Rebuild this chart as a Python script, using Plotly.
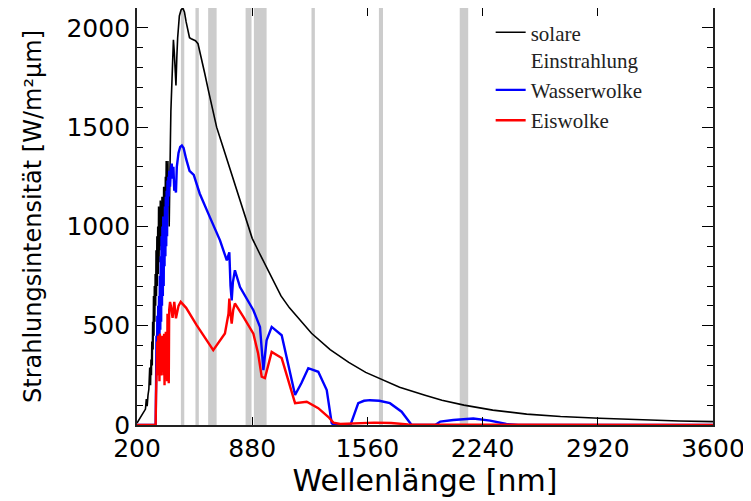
import plotly.graph_objects as go

# --- data -------------------------------------------------------------
solar_wl = [200, 210, 220, 230, 240, 250, 255, 260, 265, 270, 275, 280, 282.5, 285, 287.5,
            290, 292.5, 295, 297.5, 300, 302.5, 305, 307.5, 310, 312.5, 315, 317.5, 320, 322.5,
            325, 327.5, 330, 332.5, 335, 337.5, 340, 342.5, 345, 347.5, 350, 352.5, 355, 357.5,
            360, 362.5, 365, 367.5, 370, 372.5, 375, 377.5, 380, 382.5, 385, 387.5, 390, 392.5,
            395, 397.5, 400, 405, 410, 415, 420, 425, 430, 435, 440, 450,
            460, 470, 480, 490, 500, 510, 520, 530, 545, 560, 580, 600, 620, 650, 670,
            700, 750, 800, 840, 880, 920, 965, 1000, 1050, 1100, 1150, 1230, 1340, 1450,
            1550, 1640, 1750, 1900, 2000, 2130, 2300, 2500, 2700, 2930, 3200, 3400, 3600]
solar_val = [10, 25, 40, 55, 65, 80, 130, 95, 150, 180, 290, 200, 330, 250, 420,
             300, 520, 380, 650, 450, 700, 520, 760, 600, 880, 650, 950, 700, 1000,
             760, 1100, 820, 1050, 880, 1130, 900, 1080, 950, 1150, 980, 1100, 1000, 1200,
             1050, 1150, 1000, 1250, 1100, 1330, 1150, 1250, 1120, 1330, 1100, 1200, 1000, 1330,
             1250, 1450, 1580, 1750, 1850, 1940, 1880, 1780, 1710, 1850, 1950, 2060,
             2090, 2100, 2080, 2030, 1980, 1950, 1945, 1940, 1935, 1920, 1850, 1770, 1690, 1580, 1500,
             1420, 1290, 1160, 1050, 940, 870, 795, 730, 650, 590, 540, 462, 380, 315,
             265, 230, 190, 150, 125, 100, 75, 55, 43, 34, 25, 20, 17]

water_wl = [200, 300, 310, 312.5, 315, 317.5, 320, 322.5, 325, 327.5, 330, 332.5, 335, 337.5,
            340, 342.5, 345, 347.5, 350, 352.5, 355, 357.5, 360, 362.5, 365, 367.5, 370, 372.5,
            375, 377.5, 380, 382.5, 385, 387.5, 390, 395, 400, 405, 410, 415, 420, 425, 430, 435,
            445, 455, 465, 475, 490, 510, 535, 570, 630, 690, 730, 745, 752, 759, 766, 778, 808,
            887, 926, 946, 965, 995, 1054, 1133, 1170, 1211, 1270, 1320, 1349, 1360, 1460,
            1477, 1506, 1540, 1575, 1630, 1693, 1762, 1800, 1821, 1960, 1990, 2067, 2185,
            2284, 2380, 2450, 3600]
water_val = [0, 0, 0, 200, 450, 250, 550, 300, 600, 350, 650, 420, 750, 480,
             850, 520, 950, 600, 1000, 650, 1050, 700, 1050, 800, 1100, 850, 1150, 900,
             1180, 950, 1231, 1100, 1250, 1150, 1280, 1200, 1290, 1316, 1240, 1300, 1180, 1200, 1171, 1300,
             1370, 1400, 1407, 1395, 1340, 1280, 1260, 1166, 1047, 930, 829, 870, 700, 628, 720, 779, 695,
             578, 494, 276, 427, 494, 452, 151, 210, 286, 268, 176, 10, 0, 0,
             42, 110, 122, 125, 122, 110, 67, 20, 0, 0, 17, 25, 33,
             22, 5, 0, 0]

ice_wl = [200, 300, 310, 312.5, 315, 317.5, 320, 322.5, 325, 327.5, 330, 332.5, 335, 337.5,
          340, 342.5, 345, 347.5, 350, 352.5, 355, 357.5, 360, 362.5, 365, 367.5, 370, 372.5,
          375, 377.5, 380, 382.5, 385, 387.5, 390, 395, 400, 410, 420, 430, 445, 458, 490, 552,
          650, 719, 740, 745, 752, 759, 768, 778, 828, 887, 915, 936, 955, 995, 1054, 1133, 1202,
          1270, 1330, 1359, 1400, 1500, 1600, 1700, 1800, 2000, 3600]
ice_val = [0, 0, 0, 150, 350, 200, 420, 250, 450, 300, 400, 220, 460, 300,
           420, 250, 380, 280, 450, 300, 420, 250, 460, 200, 430, 300, 470, 280,
           400, 220, 560, 300, 450, 210, 580, 620, 600, 540, 620, 537, 600, 620, 590, 503,
           377, 461, 560, 637, 560, 510, 580, 612, 544, 460, 360, 243, 236, 368, 337, 110, 117,
           85, 40, 12, 5, 8, 12, 10, 3, 2, 0]

# spectral bands (grey), nm
band_start = [459, 545, 620, 841, 890, 1230, 1628, 2105]
band_end = [479, 565, 670, 876, 965, 1250, 1652, 2155]

x_ticks = [200, 880, 1560, 2240, 2920, 3600]
y_ticks = [0, 500, 1000, 1500, 2000]

names = ["solare<br>Einstrahlung", "Wasserwolke", "Eiswolke"]

# --- figure -----------------------------------------------------------
fig = go.Figure()
fig.add_trace(go.Scatter(x=solar_wl, y=solar_val, mode="lines", name=names[0],
                         line=dict(color="#000000", width=1.6)))
fig.add_trace(go.Scatter(x=water_wl, y=water_val, mode="lines", name=names[1],
                         line=dict(color="#0000ff", width=2.4)))
fig.add_trace(go.Scatter(x=ice_wl, y=ice_val, mode="lines", name=names[2],
                         line=dict(color="#ff0000", width=2.4)))

for a, b in zip(band_start, band_end):
    fig.add_vrect(x0=a, x1=b, fillcolor="#cccccc", opacity=1, line_width=0, layer="below")

fig.update_layout(
    width=743, height=493,
    margin=dict(l=129, r=38, t=0, b=76),
    paper_bgcolor="white", plot_bgcolor="white",
    font=dict(family="DejaVu Sans", size=25, color="black"),
    showlegend=True,
    legend=dict(x=0.614, y=0.99, xanchor="left", yanchor="top",
                bgcolor="rgba(0,0,0,0)", borderwidth=0,
                font=dict(family="Liberation Serif", size=21, color="#222222"),
                valign="top", tracegroupgap=0, itemwidth=30),
)
fig.update_xaxes(range=[200, 3600], tickvals=x_ticks, ticktext=[str(v) for v in x_ticks],
                 ticks="inside", ticklen=8, tickwidth=1.2, tickcolor="black",
                 showline=True, linecolor="#222222", linewidth=1.8, mirror="ticks",
                 showgrid=False, zeroline=False, automargin=False,
                 title=dict(text="Wellenlänge [nm]", standoff=2))
fig.update_yaxes(range=[0, 2100], tickvals=y_ticks, ticktext=[str(v) for v in y_ticks],
                 ticks="inside", ticklen=11, tickwidth=1.2, tickcolor="black",
                 ticklabelstandoff=0,
                 minor=dict(dtick=100, ticks="inside", ticklen=6, tickcolor="black", tickwidth=1),
                 showline=True, linecolor="#222222", linewidth=1.8, mirror="ticks",
                 showgrid=False, zeroline=False, automargin=False,
                 title=dict(text="Strahlungsintensität [W/m²µm]", standoff=18,
                            font=dict(family="DejaVu Sans", size=24)))

fig.write_html("out.html")
